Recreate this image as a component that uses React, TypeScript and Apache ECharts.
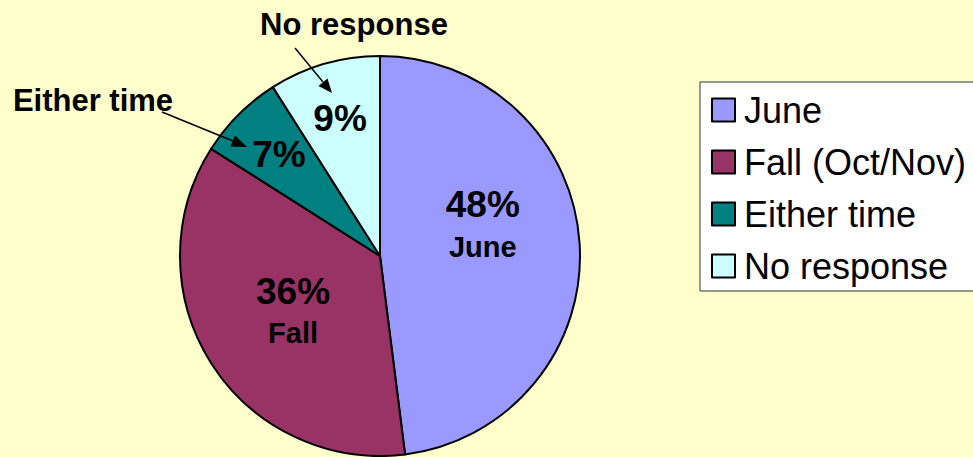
import React, { useEffect, useRef } from "react";
import * as echarts from "echarts";

const categories = ["June", "Fall (Oct/Nov)", "Either time", "No response"];
const values = [48, 36, 7, 9];
const colors = ["#9999FF", "#993366", "#008080", "#CCFFFF"];
const shortNames = ["June", "Fall", "", ""];
const FONT = "'Liberation Sans', Arial, sans-serif";

export default function App() {
  const ref = useRef<HTMLDivElement>(null);
  useEffect(() => {
    const chart = echarts.init(ref.current!, null, { renderer: "svg" });
    const mainData = categories.map((name, i) => ({
      name,
      value: values[i],
      itemStyle: { color: colors[i] },
      label:
        i < 2
          ? {
              show: true,
              formatter: `{p|${values[i]}%}\n{n|${shortNames[i]}}`,
              padding: i === 0 ? [0, 0, 50, 0] : [0, 0, 0, 0],
            }
          : { show: false },
    }));
    const labelData = categories.map((name, i) => ({
      name,
      value: values[i],
      label: i >= 2 ? { show: true, formatter: `{p|${values[i]}%}` } : { show: false },
    }));
    const rich = {
      p: { fontSize: 37, fontWeight: "bold", color: "#000", fontFamily: FONT, lineHeight: 44 },
      n: { fontSize: 29, fontWeight: "bold", color: "#000", fontFamily: FONT, lineHeight: 40 },
    };
    const z = 100;
    chart.setOption({
      animation: false,
      backgroundColor: "#FFFFCC",
      legend: {
        orient: "vertical",
        left: 700,
        top: 82,
        padding: [10, 40, 7, 11],
        backgroundColor: "#FFFFFF",
        borderColor: "#333",
        borderWidth: 1,
        borderRadius: 0,
        itemWidth: 23,
        itemHeight: 23,
        itemGap: 16,
        icon: "rect",
        data: categories,
        itemStyle: { borderColor: "#000", borderWidth: 2 },
        textStyle: {
          fontSize: 36,
          fontFamily: FONT,
          color: "#000",
          padding: [0, 0, 0, 4],
        },
      },
      series: [
        {
          type: "pie",
          center: [380, 256],
          radius: [0, 200],
          startAngle: 90,
          clockwise: true,
          silent: true,
          label: { position: "inner", rich },
          labelLine: { show: false },
          itemStyle: { borderColor: "#000", borderWidth: 2 },
          data: mainData,
        },
        {
          type: "pie",
          center: [380, 256],
          radius: [0, 280],
          startAngle: 90,
          clockwise: true,
          silent: true,
          label: { position: "inner", rich },
          labelLine: { show: false },
          itemStyle: { color: "rgba(0,0,0,0)", borderWidth: 0 },
          data: labelData,
          z: 5,
        },
      ],
      graphic: [
        {
          type: "text",
          x: 354,
          y: 24,
          z,
          style: {
            text: "No response",
            fontSize: 31,
            fontWeight: "bold",
            fontFamily: FONT,
            fill: "#000",
            align: "center",
            verticalAlign: "middle",
          },
        },
        {
          type: "text",
          x: 93,
          y: 100,
          z,
          style: {
            text: "Either time",
            fontSize: 31,
            fontWeight: "bold",
            fontFamily: FONT,
            fill: "#000",
            align: "center",
            verticalAlign: "middle",
          },
        },
        {
          type: "line",
          z,
          shape: { x1: 295, y1: 48, x2: 323, y2: 82 },
          style: { stroke: "#000", lineWidth: 1.5 },
        },
        {
          type: "polygon",
          z,
          shape: { points: [[332, 93], [318.5, 86], [327.5, 78.5]] },
          style: { fill: "#000" },
        },
        {
          type: "line",
          z,
          shape: { x1: 162, y1: 112, x2: 233, y2: 141 },
          style: { stroke: "#000", lineWidth: 1.5 },
        },
        {
          type: "polygon",
          z,
          shape: { points: [[247, 147], [230.5, 146.5], [235, 135.5]] },
          style: { fill: "#000" },
        },
      ],
    });
    return () => chart.dispose();
  }, []);
  return (
    <div
      ref={ref}
      style={{ position: "absolute", left: 0, top: 0, width: 973, height: 457 }}
    />
  );
}
